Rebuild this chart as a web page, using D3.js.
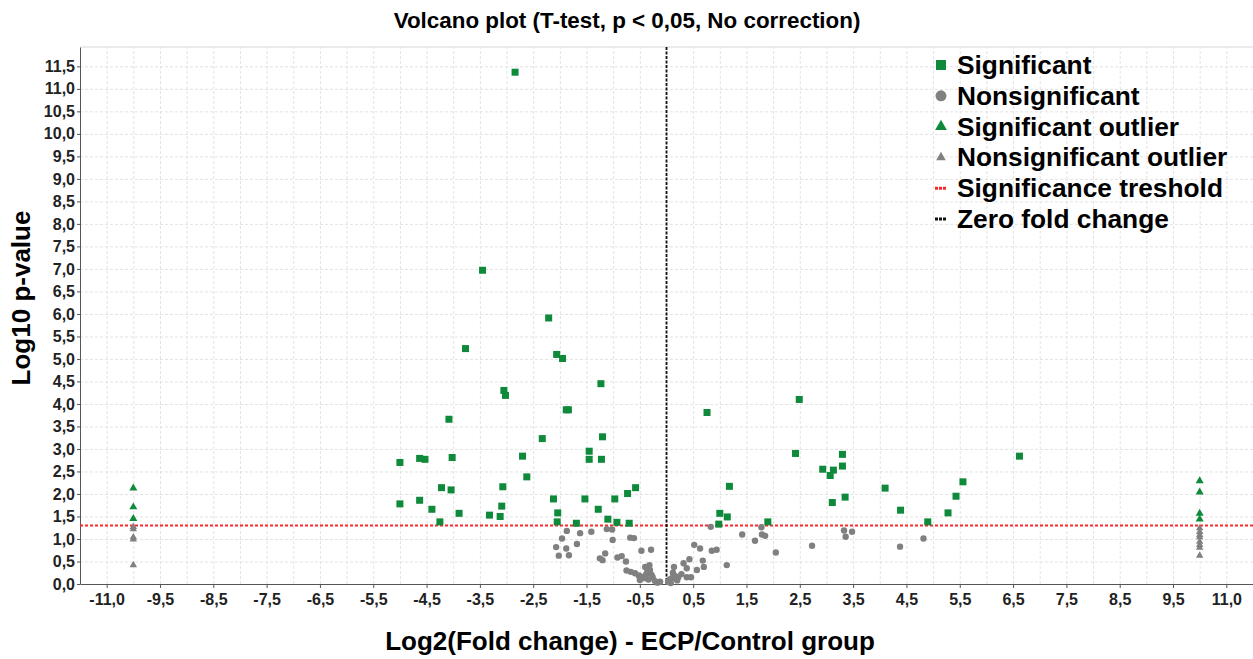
<!DOCTYPE html>
<html>
<head>
<meta charset="utf-8">
<title>Volcano plot</title>
<style>
  body { margin: 0; background: #fff; }
  svg { display: block; font-family: "Liberation Sans", Arial, sans-serif; }
  .grid line { stroke: #e3e3e3; stroke-width: 1px; stroke-dasharray: 3,2; }
  .grid path { display: none; }
  .axis path, .axis line { stroke: #555; }
  .axis text { font-size: 16px; font-weight: bold; fill: #222; }
  .title { font-size: 22.4px; font-weight: bold; text-anchor: middle; }
  .axis-label { font-size: 26px; font-weight: bold; text-anchor: middle; }
  .legend text { font-size: 26.3px; font-weight: bold; }
</style>
</head>
<body>
<div id="chart"></div>
<script src="https://cdn.jsdelivr.net/npm/d3@7"></script>
<script>
// data: [log2 fold change, -log10 p]
var significant = [
  [-2.84, 11.37], [-3.45, 6.97], [-2.21, 5.91], [-3.77, 5.23], [-2.06, 5.10], [-1.95, 5.01],
  [-1.23, 4.45], [-3.05, 4.30], [-3.02, 4.19], [-1.88, 3.87], [-1.84, 3.87], [-4.08, 3.66],
  [-2.33, 3.23], [-1.20, 3.27], [-1.45, 2.95], [-1.45, 2.77], [-1.22, 2.77], [-2.70, 2.84],
  [-2.62, 2.38], [-5.00, 2.70], [-4.63, 2.79], [-4.53, 2.77], [-4.02, 2.81], [-5.00, 1.78],
  [-4.63, 1.86], [-4.40, 1.66], [-4.25, 1.38], [-4.22, 2.14], [-4.04, 2.09], [-3.89, 1.57],
  [-3.32, 1.53], [-3.12, 1.50], [-3.09, 1.73], [-3.07, 2.16], [-2.12, 1.89], [-2.04, 1.58],
  [-2.05, 1.38], [-1.69, 1.35], [-1.53, 1.89], [-1.28, 1.66], [-1.10, 1.44], [-0.97, 1.89],
  [-0.93, 1.37], [-0.73, 2.01], [-0.58, 2.14], [-0.70, 1.35],
  [0.76, 3.81], [2.49, 4.10], [2.42, 2.90], [1.18, 2.17], [1.00, 1.57], [1.14, 1.49],
  [0.98, 1.33], [1.90, 1.38], [2.93, 2.55], [3.13, 2.53], [3.07, 2.41], [3.30, 2.88],
  [3.30, 2.62], [3.35, 1.93], [3.11, 1.81], [4.10, 2.13], [4.39, 1.64], [4.90, 1.38],
  [5.28, 1.58], [5.43, 1.95], [5.56, 2.27], [6.62, 2.84]
];
var nonsignificant = [
  [-1.87, 1.18], [-1.96, 1.01], [-2.07, 0.82], [-1.88, 0.79], [-2.02, 0.63], [-1.83, 0.64],
  [-1.68, 0.89], [-1.62, 1.13], [-1.41, 1.16], [-1.12, 1.22], [-1.02, 1.21], [-1.01, 0.98],
  [-0.68, 1.03], [-0.61, 1.02], [-1.15, 0.68], [-1.25, 0.57], [-1.20, 0.53], [-0.92, 0.59],
  [-0.84, 0.62], [-0.76, 0.50], [-0.47, 0.74], [-0.29, 0.76], [-0.75, 0.30], [-0.67, 0.27],
  [-0.59, 0.24], [-0.52, 0.19], [-0.47, 0.16], [-0.38, 0.22], [-0.36, 0.31], [-0.40, 0.38],
  [-0.32, 0.42], [-0.31, 0.31], [-0.43, 0.13], [-0.34, 0.10], [-0.26, 0.15], [-0.22, 0.07],
  [-0.17, 0.03], [-0.50, 0.09], [-0.12, 0.05], [-0.28, 0.20],
  [0.03, 0.05], [0.10, 0.13], [0.16, 0.18], [0.14, 0.38], [0.22, 0.15], [0.28, 0.22],
  [0.32, 0.46], [0.38, 0.35], [0.43, 0.55], [0.38, 0.15], [0.52, 0.87], [0.63, 0.79],
  [0.68, 0.52], [0.57, 0.31], [0.70, 0.38], [0.83, 1.27], [0.85, 0.74], [0.94, 0.76],
  [1.13, 0.42], [1.42, 1.10], [1.66, 0.96], [1.78, 1.26], [1.79, 1.10], [1.85, 1.07],
  [2.05, 0.70], [2.73, 0.85], [3.33, 1.19], [3.36, 1.05], [3.48, 1.16], [4.38, 0.83],
  [4.82, 1.01], [0.08, 0.02], [0.20, 0.08], [0.46, 0.15], [0.12, 0.25], [0.06, 0.10]
];
var significantOutliers = [
  [-10, 2.13], [-10, 1.71], [-10, 1.45],
  [10, 2.29], [10, 2.04], [10, 1.57], [10, 1.44]
];
var nonsignificantOutliers = [
  [-10, 1.27], [-10, 1.22], [-10, 1.04], [-10, 0.99], [-10, 0.42],
  [10, 1.24], [10, 1.16], [10, 1.09], [10, 1.04], [10, 0.94], [10, 0.87], [10, 0.81], [10, 0.63]
];
var threshold = -Math.log10(0.05);

var xTickValues = d3.range(-10.5, 10.51, 1);
var xTickLabels = ["-11,0", "-9,5", "-8,5", "-7,5", "-6,5", "-5,5", "-4,5", "-3,5", "-2,5", "-1,5", "-0,5",
                   "0,5", "1,5", "2,5", "3,5", "4,5", "5,5", "6,5", "7,5", "8,5", "9,5", "11,0"];
var yTickValues = d3.range(0, 11.51, 0.5);
var yTickLabels = yTickValues.map(function(v) { return v.toFixed(1).replace(".", ","); });

var legendLabels = ["Significant", "Nonsignificant", "Significant outlier", "Nonsignificant outlier",
                    "Significance treshold", "Zero fold change"];

var green = "#0f8a3b", gray = "#808080";

var width = 1253, height = 659;
var margin = {top: 47, right: 0, bottom: 75, left: 80};
var w = width - margin.left - margin.right;
var h = height - margin.top - margin.bottom;

var svg = d3.select("#chart").append("svg")
  .attr("width", width)
  .attr("height", height);

svg.append("text")
  .attr("class", "title")
  .attr("x", 627).attr("y", 28)
  .text("Volcano plot (T-test, p < 0,05, No correction)");

var g = svg.append("g")
  .attr("transform", "translate(" + margin.left + "," + margin.top + ")");

var x = d3.scaleLinear().domain([-11, 11]).range([0, w]);
var y = d3.scaleLinear().domain([0, 11.93]).range([h, 0]);

//grid
g.append("g").attr("class", "grid")
  .attr("transform", "translate(0," + h + ")")
  .call(d3.axisBottom(x).tickValues(d3.range(-10.5, 11, 0.5)).tickSize(-h).tickFormat(""));
g.append("g").attr("class", "grid")
  .call(d3.axisLeft(y).tickValues(d3.range(0.5, 11.9, 0.5)).tickSize(-w).tickFormat(""));

//top frame
g.append("line")
  .attr("x1", 0).attr("x2", w).attr("y1", 0).attr("y2", 0)
  .attr("stroke", "#d8d8d8");

//axes
g.append("g").attr("class", "axis")
  .attr("transform", "translate(0," + h + ")")
  .call(d3.axisBottom(x).tickValues(xTickValues).tickSize(4).tickSizeOuter(0).tickPadding(6)
    .tickFormat(function(d, i) { return xTickLabels[i]; }));
g.append("g").attr("class", "axis")
  .call(d3.axisLeft(y).tickValues(yTickValues).tickSize(3).tickSizeOuter(0).tickPadding(2)
    .tickFormat(function(d, i) { return yTickLabels[i]; }));

//threshold and zero lines
g.append("line")
  .attr("x1", 0).attr("x2", w)
  .attr("y1", y(threshold)).attr("y2", y(threshold))
  .attr("stroke", "#f52a2a").attr("stroke-width", 2).attr("stroke-dasharray", "3,2");
g.append("line")
  .attr("x1", x(0)).attr("x2", x(0))
  .attr("y1", 0).attr("y2", h)
  .attr("stroke", "#111").attr("stroke-width", 1.8).attr("stroke-dasharray", "3,1.5");

//points
var tri = d3.symbol().type(d3.symbolTriangle).size(28);
var triSmall = d3.symbol().type(d3.symbolTriangle).size(24);

g.selectAll(".ns").data(nonsignificant).enter().append("circle")
  .attr("cx", function(d) { return x(d[0]); })
  .attr("cy", function(d) { return y(d[1]); })
  .attr("r", 3.2)
  .attr("fill", gray);

g.selectAll(".nso").data(nonsignificantOutliers).enter().append("path")
  .attr("d", triSmall)
  .attr("transform", function(d) { return "translate(" + x(d[0]) + "," + y(d[1]) + ")"; })
  .attr("fill", gray);

g.selectAll(".so").data(significantOutliers).enter().append("path")
  .attr("d", tri)
  .attr("transform", function(d) { return "translate(" + x(d[0]) + "," + y(d[1]) + ")"; })
  .attr("fill", green);

g.selectAll(".sig").data(significant).enter().append("rect")
  .attr("x", function(d) { return x(d[0]) - 3.5; })
  .attr("y", function(d) { return y(d[1]) - 3.5; })
  .attr("width", 7).attr("height", 7)
  .attr("fill", green);

//axis labels
svg.append("text")
  .attr("class", "axis-label")
  .attr("x", 630).attr("y", 650)
  .text("Log2(Fold change) - ECP/Control group");
svg.append("text")
  .attr("class", "axis-label")
  .attr("transform", "translate(30,298) rotate(-90)")
  .text("Log10 p-value");

//legend
var legend = svg.append("g").attr("class", "legend")
  .attr("transform", "translate(941,65)");
var rowH = 30.8;
var rows = legend.selectAll("g").data(legendLabels).enter().append("g")
  .attr("transform", function(d, i) { return "translate(0," + (i * rowH) + ")"; });
rows.append("text")
  .attr("x", 16).attr("y", 9)
  .text(function(d) { return d; });

rows.filter(function(d, i) { return i === 0; }).append("rect")
  .attr("x", -5).attr("y", -5).attr("width", 10).attr("height", 10).attr("fill", green);
rows.filter(function(d, i) { return i === 1; }).append("circle")
  .attr("r", 5.5).attr("fill", gray);
rows.filter(function(d, i) { return i === 2; }).append("path")
  .attr("d", d3.symbol().type(d3.symbolTriangle).size(60)).attr("fill", green);
rows.filter(function(d, i) { return i === 3; }).append("path")
  .attr("d", d3.symbol().type(d3.symbolTriangle).size(40)).attr("fill", gray);
rows.filter(function(d, i) { return i === 4; }).append("line")
  .attr("x1", -6).attr("x2", 6).attr("y1", 0).attr("y2", 0)
  .attr("stroke", "#f52a2a").attr("stroke-width", 3).attr("stroke-dasharray", "3,1");
rows.filter(function(d, i) { return i === 5; }).append("line")
  .attr("x1", -6).attr("x2", 6).attr("y1", 0).attr("y2", 0)
  .attr("stroke", "#111").attr("stroke-width", 3).attr("stroke-dasharray", "3,1");
</script>
</body>
</html>
